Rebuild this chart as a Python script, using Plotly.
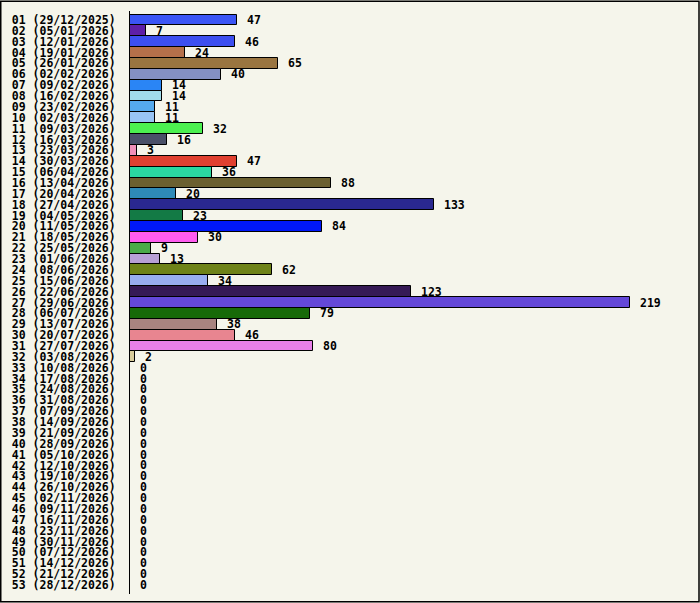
import plotly.graph_objects as go

weeks = [
    "01 (29/12/2025)", "02 (05/01/2026)", "03 (12/01/2026)", "04 (19/01/2026)",
    "05 (26/01/2026)", "06 (02/02/2026)", "07 (09/02/2026)", "08 (16/02/2026)",
    "09 (23/02/2026)", "10 (02/03/2026)", "11 (09/03/2026)", "12 (16/03/2026)",
    "13 (23/03/2026)", "14 (30/03/2026)", "15 (06/04/2026)", "16 (13/04/2026)",
    "17 (20/04/2026)", "18 (27/04/2026)", "19 (04/05/2026)", "20 (11/05/2026)",
    "21 (18/05/2026)", "22 (25/05/2026)", "23 (01/06/2026)", "24 (08/06/2026)",
    "25 (15/06/2026)", "26 (22/06/2026)", "27 (29/06/2026)", "28 (06/07/2026)",
    "29 (13/07/2026)", "30 (20/07/2026)", "31 (27/07/2026)", "32 (03/08/2026)",
    "33 (10/08/2026)", "34 (17/08/2026)", "35 (24/08/2026)", "36 (31/08/2026)",
    "37 (07/09/2026)", "38 (14/09/2026)", "39 (21/09/2026)", "40 (28/09/2026)",
    "41 (05/10/2026)", "42 (12/10/2026)", "43 (19/10/2026)", "44 (26/10/2026)",
    "45 (02/11/2026)", "46 (09/11/2026)", "47 (16/11/2026)", "48 (23/11/2026)",
    "49 (30/11/2026)", "50 (07/12/2026)", "51 (14/12/2026)", "52 (21/12/2026)",
    "53 (28/12/2026)",
]

counts = [
    47, 7, 46, 24, 65, 40, 14, 14, 11, 11, 32, 16, 3, 47, 36, 88,
    20, 133, 23, 84, 30, 9, 13, 62, 34, 123, 219, 79, 38, 46, 80, 2,
    0, 0, 0, 0, 0, 0, 0, 0, 0, 0, 0, 0, 0, 0, 0, 0, 0, 0, 0, 0, 0,
]

bar_colors = [
    "#3b55f5", "#5e1fa8", "#3d4ff0", "#b5704a", "#9a7540", "#8490c4", "#2a85f5", "#a0dcea",
    "#55aaee", "#99c4f5", "#4cf050", "#4a5068", "#f090b8", "#e04030", "#2ad8a0", "#6b6030",
    "#2e8ab8", "#2a2890", "#137a45", "#0018f8", "#ff5cef", "#4aaa48", "#b8a0d6", "#6e8218",
    "#98aef0", "#361a55", "#6448d8", "#176a08", "#a88480", "#e88590", "#e880e8", "#d8cc9a",
] + ["#cccccc"] * 21

W, H = 700, 603
ML, MR, MT, MB = 130, 10, 10.5, 8.5
mono = dict(family="DejaVu Sans Mono", size=11.5, color="black", weight="bold")

fig = go.Figure()
fig.add_trace(go.Bar(
    x=counts, y=weeks, orientation="h",
    marker=dict(color=bar_colors, line=dict(color="black", width=1)),
    hoverinfo="x+y",
))

# value labels just right of each bar
for w, c in zip(weeks, counts):
    fig.add_annotation(x=c, y=w, text=str(c), showarrow=False,
                       xanchor="left", xshift=8, font=mono)

# thin frame round the whole picture
pw = W - ML - MR
ph = H - MT - MB
fig.add_shape(type="rect", xref="paper", yref="paper",
              x0=(-ML + 0.75) / pw, x1=1 + (MR - 1) / pw,
              y0=(-MB + 0.75) / ph, y1=1 + (MT - 0.75) / ph,
              line=dict(color="black", width=1.5), layer="above")

fig.update_layout(
    width=W, height=H,
    margin=dict(l=ML, r=MR, t=MT, b=MB, autoexpand=False),
    paper_bgcolor="#f5f5eb", plot_bgcolor="#f5f5eb",
    bargap=0, showlegend=False,
    font=mono,
)
fig.update_xaxes(range=[0, 245.3], visible=False, fixedrange=True, automargin=False)
fig.update_yaxes(autorange="reversed", showline=True, linecolor="black", linewidth=1,
                 showgrid=False, ticks="", ticklabelstandoff=11, tickfont=mono,
                 tickmode="array", tickvals=weeks, automargin=False,
                 fixedrange=True)

fig.write_html("out.html", config={"displayModeBar": False},
               post_script="document.body.style.margin='0px';")
